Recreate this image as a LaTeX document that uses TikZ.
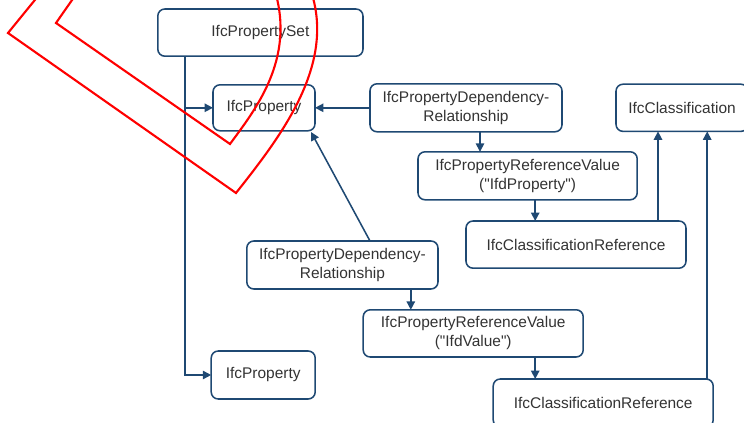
\documentclass[tikz,border=0pt]{standalone}
\usepackage{fontspec}
\setmainfont{Liberation Sans}
\usetikzlibrary{arrows.meta}
\definecolor{ifcblue}{RGB}{31,73,115}
\definecolor{ifctext}{RGB}{51,51,51}

\begin{document}
\begin{tikzpicture}[scale=1.0,
  ent/.style={draw=ifcblue,line width=1.1pt,rounded corners=5pt,align=center,
    text=ifctext,font=\fontsize{11}{13.5}\selectfont,inner sep=2pt,outer sep=0pt},
  link/.style={draw=ifcblue,line width=1.1pt,-{Triangle[length=6pt,width=6pt]}}]
  \useasboundingbox (0,0) rectangle (18.6,10.575);
  \clip (0,0) rectangle (18.6,10.575);

  % entities
  \node[ent,minimum width=5.13cm,minimum height=1.18cm] (pset) at (6.51,9.76) {IfcPropertySet};
  \node[ent,minimum width=2.55cm,minimum height=1.15cm] (propA) at (6.60,7.88) {IfcProperty};
  \node[ent,minimum width=4.80cm,minimum height=1.20cm] (deprelA) at (11.65,7.88)
    {IfcPropertyDependency-\\Relationship};
  \node[ent,minimum width=5.48cm,minimum height=1.20cm] (refvalA) at (13.19,6.18)
    {IfcPropertyReferenceValue\\(\textquotedbl IfdProperty\textquotedbl)};
  \node[ent,minimum width=5.50cm,minimum height=1.18cm] (clsrefA) at (14.40,4.46) {IfcClassificationReference};
  \node[ent,minimum width=3.30cm,minimum height=1.18cm] (cls) at (17.05,7.88) {IfcClassification};
  \node[ent,minimum width=4.78cm,minimum height=1.20cm] (deprelB) at (8.56,3.95)
    {IfcPropertyDependency-\\Relationship};
  \node[ent,minimum width=5.50cm,minimum height=1.18cm] (refvalB) at (11.83,2.24)
    {IfcPropertyReferenceValue\\(\textquotedbl IfdValue\textquotedbl)};
  \node[ent,minimum width=2.60cm,minimum height=1.20cm] (propB) at (6.58,1.20) {IfcProperty};
  \node[ent,minimum width=5.50cm,minimum height=1.20cm] (clsrefB) at (15.08,0.50) {IfcClassificationReference};

  % relations
  \coordinate (trunk) at ([xshift=0.68cm]pset.south west);
  \draw[link] (trunk) |- (propB.west);
  \draw[link] (trunk |- propA.west) -- (propA.west);
  \draw[link] (deprelA.west) -- (propA.east);
  \draw[link] ([xshift=0.35cm]deprelA.south) -- ([xshift=0.35cm]deprelA.south |- refvalA.north);
  \draw[link] ([xshift=0.19cm]refvalA.south) -- ([xshift=0.19cm]refvalA.south |- clsrefA.north);
  \draw[link] ([xshift=-0.6cm]cls.south |- clsrefA.north) -- ([xshift=-0.6cm]cls.south);
  \draw[link] ([xshift=0.69cm]deprelB.north) -- ([xshift=-0.1cm,yshift=-0.03cm]propA.south east);
  \draw[link] ([xshift=1.71cm]deprelB.south) -- ([xshift=1.71cm]deprelB.south |- refvalB.north);
  \draw[link] ([xshift=1.55cm]refvalB.south) -- ([xshift=1.55cm]refvalB.south |- clsrefB.north);
  \draw[link] ([xshift=0.63cm]cls.south |- clsrefB.north) -- ([xshift=0.63cm]cls.south);

  % red marking
  \draw[red,line width=1.5pt,line join=miter]
    (1.08,10.83) -- (0.20,9.75) -- (5.90,5.75)
    .. controls (7.05,7.20) and (8.38,8.95) .. (7.78,10.78);
  \draw[red,line width=1.5pt,line join=miter]
    (1.98,10.83) -- (1.40,10.00) -- (5.75,6.975)
    .. controls (6.375,7.825) and (7.375,9.075) .. (6.88,10.78);
\end{tikzpicture}
\end{document}
